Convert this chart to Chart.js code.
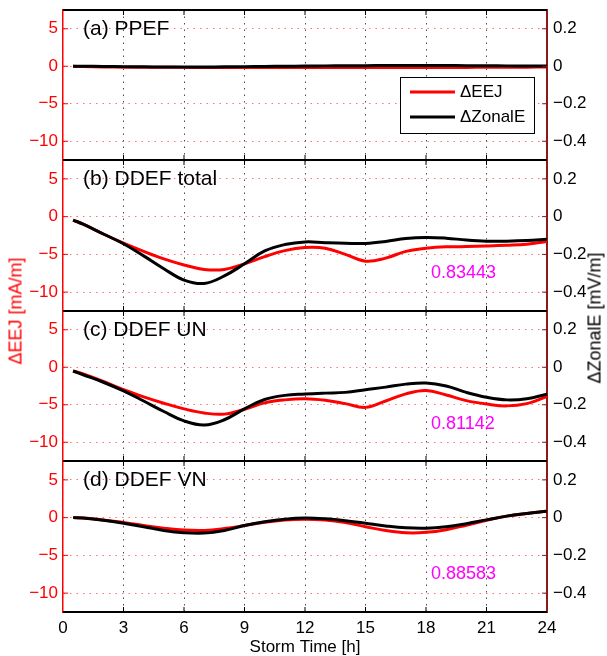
<!DOCTYPE html>
<html><head><meta charset="utf-8">
<script src="https://cdn.jsdelivr.net/npm/chart.js@4.4.0/dist/chart.umd.min.js"></script>
<style>
html,body{margin:0;padding:0;background:#fff;overflow:hidden;width:607px;height:656px;}
.panel{position:absolute;left:0;width:607px;}
.ytitle{position:absolute;font-family:"Liberation Sans",Arial,sans-serif;font-size:18px;font-weight:normal;white-space:nowrap;transform:translate(-50%,-50%) rotate(-90deg);}
</style></head><body>
<div id="p0" class="panel"><canvas id="c0"></canvas></div>
<div id="p1" class="panel"><canvas id="c1"></canvas></div>
<div id="p2" class="panel"><canvas id="c2"></canvas></div>
<div id="p3" class="panel"><canvas id="c3"></canvas></div>
<div class="ytitle" style="left:16px;top:311px;color:#ff0000">ΔEEJ [mA/m]</div>
<div class="ytitle" style="left:595px;top:318px;color:#000">ΔZonalE [mV/m]</div>
<script>
// ---- data ----
const HOURS = [0.5,1,2,3,4,5,6,7,8,9,10,11,12,13,14,15,16,17,18,19,20,21,22,23,24];
const PANEL_LABELS = ['(a) PPEF','(b) DDEF total','(c) DDEF UN','(d) DDEF VN'];
const CORRELATIONS = ['', '0.83443', '0.81142', '0.88583'];
const SERIES_NAMES = ['ΔEEJ','ΔZonalE'];
// ΔEEJ [mA/m] (left axis)
const EEJ_PPEF  = [0,-0.05,-0.1,-0.12,-0.13,-0.14,-0.15,-0.15,-0.15,-0.15,-0.15,-0.15,-0.15,-0.15,-0.15,-0.15,-0.15,-0.15,-0.15,-0.15,-0.15,-0.14,-0.13,-0.12,-0.1];
const EEJ_TOTAL = [-0.45,-1.0,-2.3,-3.5,-4.6,-5.6,-6.4,-7.0,-7.0,-6.25,-5.3,-4.5,-4.1,-4.2,-5.0,-5.9,-5.5,-4.6,-4.2,-4.0,-3.97,-3.9,-3.8,-3.65,-3.3];
const EEJ_UN    = [-0.5,-0.9,-1.9,-3.0,-3.95,-4.8,-5.55,-6.1,-6.25,-5.6,-4.75,-4.35,-4.2,-4.4,-4.85,-5.35,-4.5,-3.55,-3.1,-3.7,-4.45,-4.9,-5.15,-4.85,-3.9];
const EEJ_VN    = [0,-0.05,-0.3,-0.65,-1.05,-1.4,-1.65,-1.7,-1.45,-1.05,-0.6,-0.3,-0.2,-0.3,-0.65,-1.2,-1.7,-2.0,-1.95,-1.6,-1.0,-0.35,0.2,0.55,0.85];
// ΔZonalE [mV/m] (right axis)
const ZE_PPEF  = [0,0,-0.001,-0.002,-0.003,-0.004,-0.004,-0.004,-0.003,-0.002,-0.001,0,0.001,0.002,0.003,0.003,0.004,0.004,0.004,0.004,0.003,0.003,0.002,0.002,0.002];
const ZE_TOTAL = [-0.018,-0.040,-0.092,-0.144,-0.208,-0.276,-0.336,-0.354,-0.314,-0.250,-0.182,-0.148,-0.134,-0.138,-0.141,-0.142,-0.132,-0.116,-0.110,-0.114,-0.124,-0.130,-0.130,-0.127,-0.120];
const ZE_UN    = [-0.020,-0.040,-0.080,-0.126,-0.180,-0.236,-0.286,-0.308,-0.280,-0.222,-0.172,-0.150,-0.143,-0.138,-0.134,-0.120,-0.106,-0.090,-0.084,-0.100,-0.134,-0.160,-0.174,-0.168,-0.144];
const ZE_VN    = [0,-0.002,-0.014,-0.030,-0.048,-0.068,-0.080,-0.082,-0.068,-0.042,-0.022,-0.008,-0.002,-0.006,-0.016,-0.030,-0.044,-0.054,-0.056,-0.048,-0.032,-0.012,0.008,0.022,0.034];
const EEJ = [EEJ_PPEF, EEJ_TOTAL, EEJ_UN, EEJ_VN];
const ZE  = [ZE_PPEF, ZE_TOTAL, ZE_UN, ZE_VN];
// ticks
const X_TICKS = [0,3,6,9,12,15,18,21,24];
const X_LABELS = ['0','3','6','9','12','15','18','21','24'];
const YL_TICKS = [5,0,-5,-10];
const YL_LABELS = ['5','0','\u22125','\u221210'];
const YR_TICKS = [0.2,0,-0.2,-0.4];
const YR_LABELS = ['0.2','0','\u22120.2','\u22120.4'];
const YL_RANGE = [-12.5, 7.5];
const YR_RANGE = [-0.5, 0.3];

// ---- layout ----
const FONT = '"Liberation Sans", Arial, sans-serif';
const PT = [10,160,311,461];
const PB = [160,311,461,612];
const PAD = 6;

function noPad(ax){ ax.paddingTop = 0; ax.paddingBottom = 0; ax.paddingLeft = 0; ax.paddingRight = 0; }

function makePanel(i){
  const div = document.getElementById('p'+i);
  const top = PT[i]-PAD;
  div.style.top = top+'px';
  div.style.height = (i<3 ? (PB[i]-PT[i]+2*PAD) : (656-top))+'px';
  const last = i===3;
  const deco = {
    id:'deco'+i,
    afterDraw(chart){
      const ctx = chart.ctx, ca = chart.chartArea;
      const xs = chart.scales.x, yl = chart.scales.yL, yr = chart.scales.yR;
      const ay = v => ca.top + (v - PT[i]);
      ctx.save();
      ctx.lineWidth = 1;
      ctx.strokeStyle = '#000';
      X_TICKS.forEach(v=>{
        if (v===0||v===24) return;
        const px = xs.getPixelForValue(v);
        ctx.beginPath();
        ctx.moveTo(px, ca.top); ctx.lineTo(px, ca.top+5);
        ctx.moveTo(px, ca.bottom); ctx.lineTo(px, ca.bottom-5);
        ctx.stroke();
      });
      ctx.strokeStyle = '#ff0000';
      YL_TICKS.forEach(v=>{
        const py = yl.getPixelForValue(v);
        ctx.beginPath(); ctx.moveTo(ca.left, py); ctx.lineTo(ca.left+5, py); ctx.stroke();
      });
      ctx.strokeStyle = '#8b1a1a';
      YR_TICKS.forEach(v=>{
        const py = yr.getPixelForValue(v);
        ctx.beginPath(); ctx.moveTo(ca.right, py); ctx.lineTo(ca.right-5, py); ctx.stroke();
      });
      ctx.strokeStyle = '#000';
      ctx.lineWidth = 2.2;
      ctx.beginPath();
      ctx.moveTo(ca.left, ca.top); ctx.lineTo(ca.right, ca.top);
      ctx.moveTo(ca.left, ca.bottom); ctx.lineTo(ca.right, ca.bottom);
      ctx.stroke();
      ctx.fillStyle = '#000';
      ctx.font = '21px '+FONT;
      ctx.textBaseline = 'middle';
      ctx.textAlign = 'left';
      ctx.fillText(PANEL_LABELS[i], 83, ca.top+19.5);
      if (CORRELATIONS[i]) {
        ctx.fillStyle = '#ff00ff';
        ctx.font = '18px '+FONT;
        ctx.fillText(CORRELATIONS[i], 431, ca.top+113);
      }
      if (i===0) {
        ctx.fillStyle = '#fff';
        ctx.fillRect(400, ay(77), 134, 56);
        ctx.strokeStyle = '#000'; ctx.lineWidth = 1;
        ctx.strokeRect(400.5, ay(77)+0.5, 134, 56);
        ctx.lineWidth = 3;
        ctx.strokeStyle = '#ff0000';
        ctx.beginPath(); ctx.moveTo(410, ay(92)); ctx.lineTo(455, ay(92)); ctx.stroke();
        ctx.strokeStyle = '#000';
        ctx.beginPath(); ctx.moveTo(410, ay(117)); ctx.lineTo(455, ay(117)); ctx.stroke();
        ctx.fillStyle = '#000';
        ctx.font = '17px '+FONT;
        ctx.fillText(SERIES_NAMES[0], 460, ay(92));
        ctx.fillText(SERIES_NAMES[1], 460, ay(117));
      }
      ctx.restore();
    }
  };
  return new Chart(document.getElementById('c'+i), {
    type:'line',
    data:{datasets:[
      {label:SERIES_NAMES[1], yAxisID:'yR', order:0, borderColor:'#000', borderWidth:3,
       data:HOURS.map((h,k)=>({x:h,y:ZE[i][k]})), pointRadius:0, tension:0.4, fill:false},
      {label:SERIES_NAMES[0], yAxisID:'yL', order:1, borderColor:'#ff0000', borderWidth:3,
       data:HOURS.map((h,k)=>({x:h,y:EEJ[i][k]})), pointRadius:0, tension:0.4, fill:false}
    ]},
    options:{
      responsive:true, maintainAspectRatio:false, animation:false, events:[],
      layout:{padding:{top:PAD,bottom:last?0:PAD,left:0,right:0}},
      plugins:{legend:{display:false}, tooltip:{enabled:false}},
      scales:{
        x:{type:'linear', min:0, max:24,
          afterBuildTicks: ax=>{ax.ticks = X_TICKS.map(v=>({value:v}));},
          afterFit: ax=>{ax.height = last?44:0; noPad(ax);},
          grid:{drawTicks:false, lineWidth:1,
            color: c => (c.tick && (c.tick.value===0||c.tick.value===24)) ? 'rgba(0,0,0,0)' : 'rgba(0,0,0,0.7)'},
          border:{display:false, dash:[1.5,5]},
          ticks:{display:last, padding:6, color:'#000', font:{family:FONT,size:17}, maxRotation:0,
            callback: v => X_LABELS[X_TICKS.indexOf(v)]},
          title:{display:last, text:'Storm Time [h]', color:'#000', font:{family:FONT,size:17,lineHeight:1}, padding:{top:0,bottom:0}}
        },
        yL:{type:'linear', position:'left', min:YL_RANGE[0], max:YL_RANGE[1],
          afterBuildTicks: ax=>{ax.ticks = YL_TICKS.map(v=>({value:v}));},
          afterFit: ax=>{ax.width = 63; noPad(ax);},
          grid:{drawTicks:false, color:'rgba(255,0,0,0.55)', lineWidth:1},
          border:{color:'#ff0000', width:1.5, dash:[1.5,5]},
          ticks:{color:'#ff0000', padding:5, font:{family:FONT,size:17},
            callback: v => YL_LABELS[YL_TICKS.indexOf(v)]}
        },
        yR:{type:'linear', position:'right', min:YR_RANGE[0], max:YR_RANGE[1],
          afterBuildTicks: ax=>{ax.ticks = YR_TICKS.map(v=>({value:v}));},
          afterFit: ax=>{ax.width = 60; noPad(ax);},
          grid:{display:false, drawTicks:false},
          border:{color:'#8b1a1a', width:2},
          ticks:{color:'#000', padding:6, font:{family:FONT,size:17},
            callback: v => YR_LABELS[YR_TICKS.indexOf(v)]}
        }
      }
    },
    plugins:[deco]
  });
}
[0,1,2,3].forEach(makePanel);
</script>
</body></html>
